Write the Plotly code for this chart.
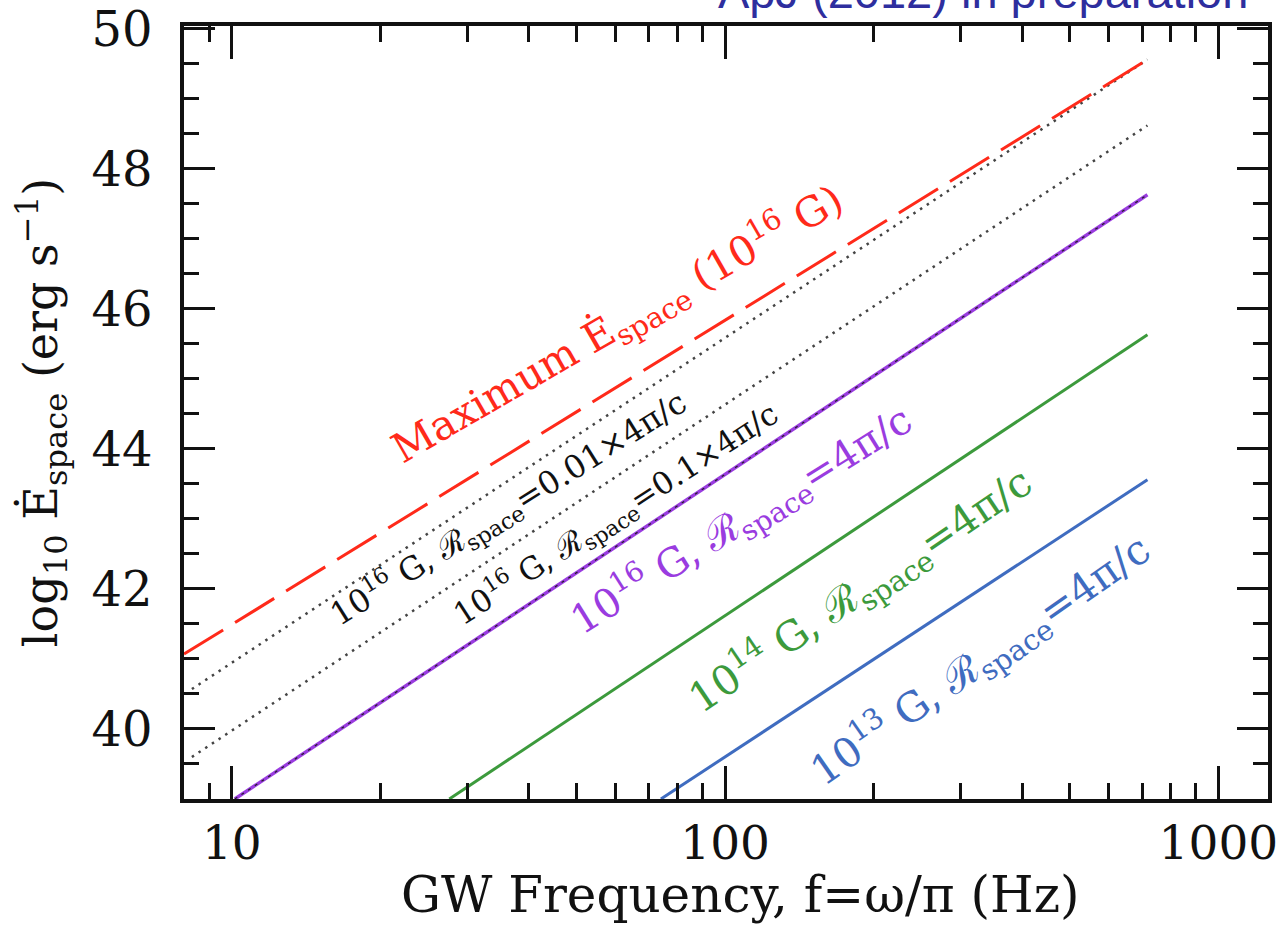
import plotly.graph_objects as go

# ---- data (log-log straight lines, endpoints) ----
freq_max = [8.0, 718.0]
loge_max = [41.07, 49.56]

freq_r001 = [8.3, 718.0]
loge_r001 = [40.57, 49.56]

freq_r01 = [8.3, 718.0]
loge_r01 = [39.60, 48.62]

freq_b16 = [10.14, 718.0]
loge_b16 = [39.0, 47.63]

freq_b14 = [27.6, 718.0]
loge_b14 = [39.0, 45.63]

freq_b13 = [74.1, 718.0]
loge_b13 = [39.0, 43.56]

x_tickvals = [10, 100, 1000]
x_ticktext = ["10", "100", "1000"]
x_minor = [8, 9, 20, 30, 40, 50, 60, 70, 80, 90, 200, 300, 400, 500, 600, 700, 800, 900]
y_tickvals = [40, 42, 44, 46, 48, 50]
y_minor = [39.5, 40.5, 41, 41.5, 42.5, 43, 43.5, 44.5, 45, 45.5, 46.5, 47, 47.5, 48.5, 49, 49.5]

RED = "#ff2a1a"
PURPLE = "#9a3ce0"
GREEN = "#3c9a3c"
BLUE = "#3f6cc0"
SERIF = "DejaVu Serif, Liberation Serif, serif"

W, H = 1286, 927
L, R, T, B = 184, 18, 26, 128
PW, PH = W - L - R, H - T - B


def px(x, y):
    return (x - L) / PW, 1 - (y - T) / PH


fig = go.Figure()
fig.add_trace(go.Scatter(x=freq_r001, y=loge_r001, mode="lines",
                         line=dict(color="#444444", width=2.5, dash="2.5px,5.5px")))
fig.add_trace(go.Scatter(x=freq_r01, y=loge_r01, mode="lines",
                         line=dict(color="#444444", width=2.5, dash="2.5px,5.5px")))
fig.add_trace(go.Scatter(x=freq_max, y=loge_max, mode="lines",
                         line=dict(color=RED, width=3, dash="46px,14px")))
fig.add_trace(go.Scatter(x=freq_b16, y=loge_b16, mode="lines",
                         line=dict(color=PURPLE, width=3.5)))
fig.add_trace(go.Scatter(x=freq_b16, y=loge_b16, mode="lines",
                         line=dict(color="#222222", width=1.2, dash="3px,5px")))
fig.add_trace(go.Scatter(x=freq_b14, y=loge_b14, mode="lines",
                         line=dict(color=GREEN, width=3)))
fig.add_trace(go.Scatter(x=freq_b13, y=loge_b13, mode="lines",
                         line=dict(color=BLUE, width=3)))

labels = [
    ("Maximum Ė<sub>space</sub> (10<sup>16</sup> G)", 617, 324, -30, 41, RED),
    ("10<sup>16</sup> G, ℛ<sub>space</sub>=0.01×4π/c", 508, 508, -32, 32, "#111111"),
    ("10<sup>16</sup> G, ℛ<sub>space</sub>=0.1×4π/c", 615, 514, -33, 31, "#111111"),
    ("10<sup>16</sup> G, ℛ<sub>space</sub>=4π/c", 741, 520, -32, 40, PURPLE),
    ("10<sup>14</sup> G, ℛ<sub>space</sub>=4π/c", 860, 590, -34, 41, GREEN),
    ("10<sup>13</sup> G, ℛ<sub>space</sub>=4π/c", 980, 660, -35, 41, BLUE),
]
for text, cx, cy, ang, size, col in labels:
    ax_, ay_ = px(cx, cy)
    fig.add_annotation(x=ax_, y=ay_, xref="paper", yref="paper", text=text,
                       showarrow=False, textangle=ang,
                       font=dict(family=SERIF, size=size, color=col),
                       xanchor="center", yanchor="middle")

# x-axis title (placed as annotation for exact position)
xt, yt = px(740, 895)
fig.add_annotation(x=xt, y=yt, xref="paper", yref="paper",
                   text="GW Frequency, f=ω/π (Hz)", showarrow=False,
                   font=dict(family=SERIF, size=50, color="#111111"),
                   xanchor="center", yanchor="middle")

tx, ty = px(1250, -9)
fig.add_annotation(x=tx, y=ty, xref="paper", yref="paper",
                   text="ApJ (2012) in preparation", showarrow=False,
                   font=dict(family="Liberation Sans, Arial, sans-serif", size=47, color="#2e2e9e"),
                   xanchor="right", yanchor="middle")

fig.update_layout(
    width=W, height=H,
    margin=dict(l=L, r=R, t=T, b=B, autoexpand=False),
    paper_bgcolor="white", plot_bgcolor="white",
    showlegend=False,
    font=dict(family=SERIF, color="#111111"),
)
fig.update_xaxes(
    type="log", range=[0.9031, 3.1005], automargin=False,
    tickmode="array", tickvals=x_tickvals, ticktext=x_ticktext,
    ticks="inside", ticklen=33, tickwidth=3, tickcolor="#111111",
    minor=dict(tickmode="array", tickvals=x_minor, ticks="inside", ticklen=16,
               tickwidth=3, tickcolor="#111111", showgrid=False),
    showline=True, linewidth=3.5, linecolor="#111111", mirror="ticks",
    showgrid=False, zeroline=False,
    tickfont=dict(family=SERIF, size=47, color="#111111"),
    ticklabelstandoff=0,
)
fig.update_yaxes(
    range=[39, 50.04], automargin=False,
    tickmode="array", tickvals=y_tickvals,
    ticks="inside", ticklen=31, tickwidth=3, tickcolor="#111111",
    minor=dict(tickmode="array", tickvals=y_minor, ticks="inside", ticklen=15,
               tickwidth=3, tickcolor="#111111", showgrid=False),
    showline=True, linewidth=3.5, linecolor="#111111", mirror="ticks",
    showgrid=False, zeroline=False,
    tickfont=dict(family=SERIF, size=48, color="#111111"),
    ticklabelstandoff=18,
    title=dict(text="log<sub>10</sub> Ė<sub>space</sub> (erg s<sup>−1</sup>)",
               font=dict(family=SERIF, size=46, color="#111111"), standoff=20),
)

fig.write_html("out.html", config={"displayModeBar": False},
               post_script="document.body.style.margin='0';")
